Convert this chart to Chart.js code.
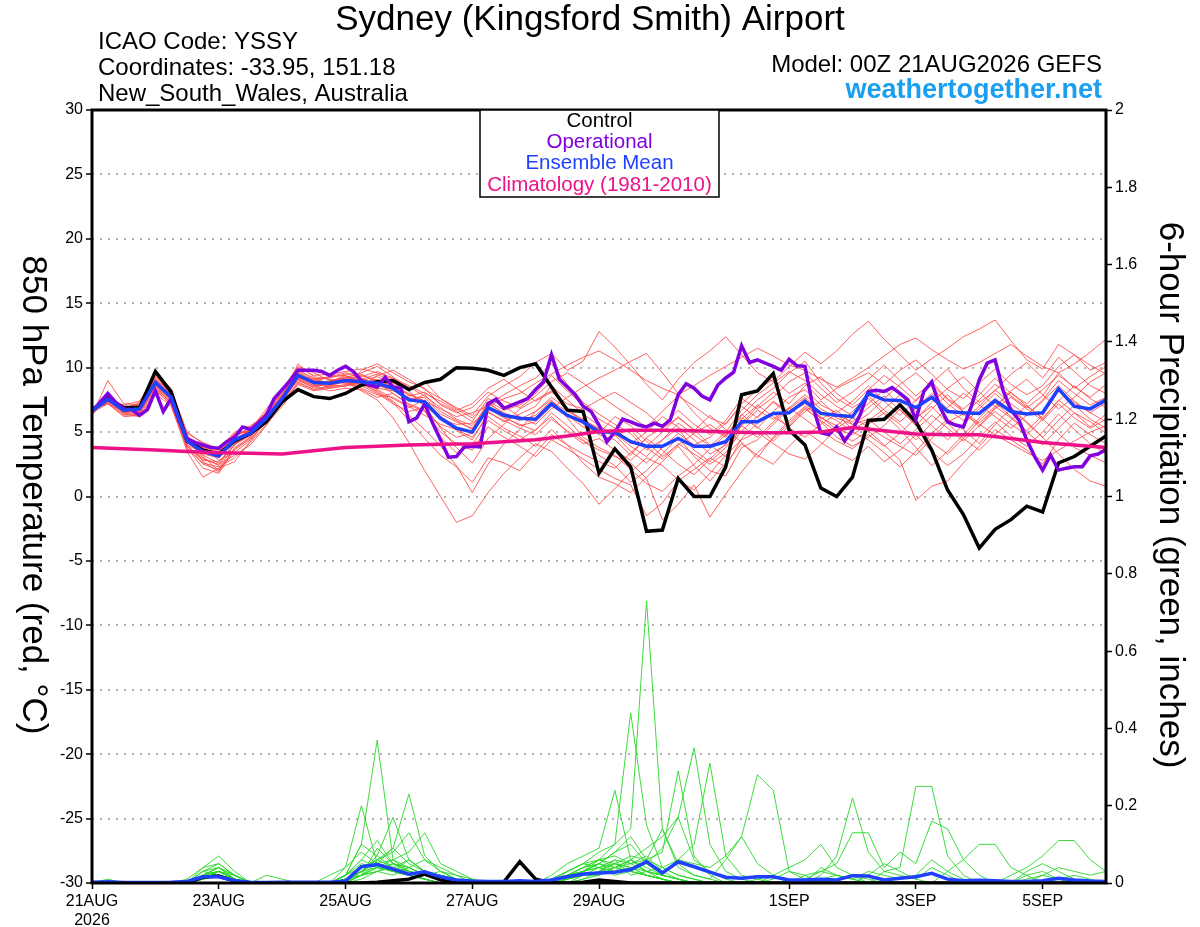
<!DOCTYPE html>
<html>
<head>
<meta charset="utf-8">
<script src="https://cdn.jsdelivr.net/npm/chart.js@4.4.1/dist/chart.umd.min.js"></script>
<style>
  html, body { margin: 0; padding: 0; background: #fff; }
  canvas { display: block; }
</style>
</head>
<body>
<canvas id="meteogram" width="1200" height="927"></canvas>
<script>
// x axis: forecast hours from 00Z 21AUG2026
const xTickHours = [0, 48, 96, 144, 192, 264, 312, 360];
const xTickLabels = ['21AUG', '23AUG', '25AUG', '27AUG', '29AUG', '1SEP', '3SEP', '5SEP'];

// 850 hPa temperature, 6-hourly (65 values, 0..384h)
const controlTemp = [6.7,7.6,6.9,6.9,9.7,8.1,4.3,3.6,3.3,4.3,4.9,5.8,7.35,8.3,7.75,7.6,8.0,
  8.65,8.9,9.0,8.3,8.85,9.1,10.0,9.95,9.8,9.4,10.0,10.3,8.5,6.7,6.6,1.8,
  3.7,2.3,-2.7,-2.6,1.4,0.0,0.0,2.3,7.9,8.2,9.55,5.15,4.0,0.65,0.0,1.5,
  5.9,6.0,7.1,5.8,3.6,0.5,-1.4,-4.0,-2.55,-1.8,-0.75,-1.2,2.6,3.1,3.9,4.7];

const meanTemp = [6.65,7.55,6.7,6.8,8.85,7.7,4.3,3.5,3.15,4.4,4.9,6.07,7.6,9.4,8.85,8.8,9.0,
  8.9,8.8,8.4,7.5,7.35,6.07,5.3,5.0,6.9,6.3,6.07,6.0,7.2,6.3,5.8,5.0,
  5.0,4.25,3.9,3.9,4.5,3.9,3.9,4.25,5.8,5.8,6.45,6.5,7.4,6.45,6.3,6.2,
  8.0,7.5,7.45,6.9,7.7,6.6,6.5,6.45,7.45,6.6,6.4,6.5,8.35,7.0,6.8,7.5];

// operational run, 3-hourly (129 values)
const operTemp = [6.6,7.3,8.0,7.3,6.8,6.75,6.3,6.75,8.2,6.6,7.6,5.9,4.5,4.2,4.0,3.8,3.75,4.25,4.6,5.4,5.2,5.7,6.3,7.6,8.3,9.0,9.8,9.8,9.8,9.7,9.4,9.8,10.1,
  9.7,9.0,8.65,8.5,9.25,8.5,8.4,5.8,6.1,7.2,5.7,4.4,3.05,3.1,3.85,3.9,3.85,7.2,7.55,6.85,7.1,7.35,7.6,8.3,8.9,11.0,9.1,8.5,7.9,7.0,6.6,
  5.55,4.25,5.0,6.0,5.8,5.55,5.4,5.7,5.45,5.95,7.9,8.75,8.4,7.8,7.5,8.65,9.2,9.65,11.7,10.4,10.6,10.35,10.1,9.8,10.65,10.15,10.1,7.0,4.95,4.8,5.4,4.3,
  5.15,6.4,8.15,8.25,8.15,8.45,8.0,7.5,5.95,8.15,8.9,7.0,5.8,5.55,5.4,7.0,9.05,10.35,10.6,8.25,6.7,5.95,4.4,3.1,2.05,3.2,2.05,2.2,2.3,2.3,3.15,3.3,3.65];

// climatology 1981-2010, 12-hourly (33 values)
const climTemp = [3.8,3.7,3.6,3.5,3.4,3.35,3.3,3.55,3.8,3.9,4.0,4.05,4.1,4.25,4.4,4.7,5.05,
  5.15,5.15,5.1,5.0,4.95,4.95,5.0,5.35,5.1,4.85,4.8,4.8,4.5,4.2,4.0,3.8];

// ensemble members, 6-hourly
const memberTemps = [
  [6.5,7.8,6.9,7.0,9.2,8.0,4.6,3.2,2.6,4.0,4.8,6.2,7.9,9.7,9.1,9.3,9.6, 9.4,9.0,8.6,8.0,7.4,6.8,6.2,6.5,7.0,7.6,8.0,8.8,9.5,10.2,10.8,11.3, 10.6,9.8,9.0,8.4,7.9,8.6,9.4,10.1,10.8,11.5,10.9,10.2,9.8,9.1,8.5,9.2, 10.0,10.9,11.8,12.3,11.4,10.6,9.9,10.4,11.1,11.8,10.9,10.1,9.6,10.3,11.2,12.2],
  [6.8,7.4,6.5,6.6,8.4,7.3,3.8,2.2,1.8,3.6,4.5,5.8,7.4,9.1,8.6,8.7,8.9, 8.2,7.5,6.1,4.2,2.0,0.0,-2.0,-1.5,0.3,1.8,3.0,4.1,3.5,2.2,1.0,-0.6, 0.6,1.9,3.0,2.4,1.3,0.5,1.8,3.2,4.4,5.0,4.1,3.3,2.9,4.0,5.3,6.1, 5.4,4.6,3.9,3.2,4.5,5.8,6.4,5.6,4.8,4.1,3.4,2.8,3.6,4.3,5.0,5.5],
  [6.3,9.0,7.2,7.1,9.0,8.3,5.0,4.1,3.6,4.8,5.3,6.3,7.2,8.9,8.3,8.5,8.7, 8.5,9.4,9.8,9.1,8.3,7.6,6.9,6.3,7.8,8.6,9.3,10.4,11.1,9.8,10.5,12.8, 11.6,10.2,8.7,7.5,9.1,10.4,11.3,12.4,11.0,9.6,8.9,10.1,11.2,10.3,11.3,12.6, 13.6,12.2,11.0,9.8,10.7,11.5,12.4,13.0,13.7,12.1,10.6,9.9,11.8,11.0,10.2,9.5],
  [6.9,7.2,6.3,6.4,8.6,7.5,3.9,2.9,2.5,3.2,4.0,5.5,7.3,9.2,8.9,8.4,8.6, 8.9,8.3,7.6,6.9,7.5,6.2,5.1,4.4,6.5,5.9,5.3,4.8,6.0,5.1,4.3,3.6, 3.1,2.6,1.4,-1.8,-0.6,0.9,-1.6,0.2,1.9,3.4,4.5,5.7,6.9,5.8,4.6,3.9, 4.6,5.5,6.8,5.6,4.2,3.3,4.5,5.9,7.0,6.1,5.0,4.0,5.3,6.5,5.8,4.9],
  [6.6,7.6,6.8,7.3,9.1,7.9,4.4,3.7,3.4,4.7,5.2,6.4,7.8,9.6,8.7,9.0,9.2, 9.6,10.1,9.3,8.2,7.0,5.3,3.8,2.6,4.5,5.6,6.8,7.5,8.2,6.9,5.6,4.8, 4.4,3.2,4.6,5.3,6.1,5.2,4.0,3.1,5.6,7.0,8.1,7.2,8.6,9.3,8.0,7.1, 8.3,9.4,8.5,7.4,8.8,9.9,8.4,7.3,8.2,9.5,10.4,9.2,10.8,9.7,8.6,8.0],
  [6.7,7.3,6.4,6.5,8.3,7.1,3.5,1.5,2.2,2.7,4.3,5.9,7.6,9.0,8.5,8.9,9.3, 9.2,8.6,8.9,7.8,8.1,7.2,6.6,5.8,7.6,7.0,6.2,5.6,6.8,7.7,8.5,9.2, 9.8,10.5,11.1,9.6,8.0,6.5,5.3,4.6,6.3,7.5,8.4,9.6,10.5,8.8,7.6,6.9, 7.6,6.4,5.2,3.8,2.4,3.5,4.8,6.1,7.3,6.2,5.1,6.3,8.2,7.3,6.5,5.8],
  [6.4,7.7,7.0,6.9,8.9,7.8,4.2,3.3,3.0,4.5,5.1,6.1,7.7,10.3,9.3,9.1,8.8, 8.7,8.2,7.4,6.3,5.2,3.9,2.4,0.3,2.5,4.1,5.2,6.6,7.5,6.1,4.6,3.8, 3.2,2.1,1.0,0.4,1.6,2.5,3.7,4.8,6.1,5.4,4.3,5.5,6.8,5.9,5.0,4.3, 5.1,4.0,2.8,-0.3,0.8,1.2,2.6,3.9,5.2,4.4,3.6,2.5,4.4,5.7,4.8,4.1],
  [6.8,7.5,6.6,6.7,8.7,7.6,4.5,3.8,3.5,4.9,5.0,6.0,7.5,9.3,8.8,8.6,9.1, 9.1,9.5,8.8,8.3,8.9,7.6,6.8,6.1,7.3,6.4,5.9,6.3,7.4,6.6,6.0,5.2, 4.7,5.2,3.8,2.9,4.1,3.3,2.5,3.4,5.1,6.2,7.3,6.4,7.6,6.0,6.7,5.6, 6.4,7.6,8.7,9.6,8.5,7.2,6.3,7.5,8.7,7.8,6.9,7.8,9.6,8.4,9.3,10.1],
  [6.6,7.9,6.8,7.2,9.3,8.2,4.8,2.7,1.9,3.8,4.6,6.4,7.7,9.5,9.0,8.9,9.4, 8.6,8.0,7.2,6.6,6.9,5.4,4.6,4.9,6.8,6.1,5.6,5.1,6.5,5.5,4.4,3.2, 2.4,1.1,2.0,3.3,4.6,3.1,2.0,1.6,3.8,4.4,5.6,6.8,7.7,6.5,5.9,5.0, 4.4,3.4,2.3,3.5,4.9,6.0,5.2,4.1,5.6,6.8,5.7,4.6,3.3,2.1,1.2,0.8],
  [6.5,7.2,6.2,6.3,8.2,7.2,4.0,3.4,3.1,4.2,5.0,6.6,8.0,9.8,9.2,8.7,8.5, 9.8,10.3,9.6,8.9,8.4,7.1,6.5,6.9,8.1,7.4,6.9,7.8,8.9,9.6,8.8,7.9, 7.0,6.2,5.4,6.6,7.8,7.0,6.1,5.6,7.2,8.3,9.1,8.0,8.8,7.5,8.4,9.0, 9.6,8.7,9.8,10.6,9.5,8.3,7.6,8.8,9.9,8.7,7.9,8.6,10.1,11.0,9.8,10.4],
  [6.9,7.7,6.9,6.6,8.8,7.7,4.1,2.5,2.1,4.1,4.7,5.7,7.2,8.8,8.3,8.6,9.0, 8.4,7.9,7.7,7.0,6.3,5.6,5.2,4.6,6.2,5.3,4.7,3.9,5.2,4.0,2.6,1.5, 1.0,0.3,1.5,2.7,3.9,2.4,1.2,2.6,4.1,3.2,2.5,3.9,5.1,4.2,3.4,2.8, 3.9,2.7,3.6,4.8,3.5,2.4,3.3,4.6,5.8,4.7,3.9,5.0,6.4,5.2,4.1,3.3],
  [6.7,7.4,6.7,7.0,9.5,8.4,4.7,3.6,3.3,4.6,5.4,6.5,8.1,10.0,9.4,9.5,9.7, 9.9,9.6,9.1,8.5,7.8,6.9,6.0,5.5,7.1,7.9,8.6,9.2,10.3,8.7,7.3,6.4, 5.6,4.9,3.6,4.4,5.7,4.8,3.9,5.0,6.7,7.9,8.8,9.7,9.0,7.9,7.0,6.3, 7.2,8.3,7.1,6.0,7.3,8.4,9.3,8.1,7.0,8.2,9.1,7.9,6.8,7.7,8.9,9.6],
  [6.4,7.6,6.5,6.8,8.5,7.4,4.3,3.9,2.8,3.4,4.4,5.9,7.4,9.2,8.6,8.2,8.4, 8.3,7.7,8.0,7.1,6.6,5.0,4.1,3.6,5.4,4.6,3.9,3.1,4.4,3.7,2.9,2.1, 1.4,0.9,-1.5,-0.5,1.2,2.1,3.0,2.3,4.5,5.7,6.5,5.3,4.6,5.6,6.4,5.2, 5.9,6.8,7.9,6.6,5.5,4.4,5.6,6.8,8.0,6.9,5.8,4.6,5.9,7.1,6.0,5.3],
  [6.6,7.3,6.9,7.1,9.0,7.6,4.9,4.2,3.7,5.0,5.5,6.3,7.6,9.4,9.1,9.2,9.5, 9.3,9.7,9.2,8.6,8.0,7.4,6.7,7.2,8.4,9.1,8.2,7.4,8.1,7.2,6.8,7.5, 8.1,7.3,6.5,5.4,6.7,5.6,4.8,5.9,7.6,6.8,7.7,8.9,9.6,8.4,7.3,8.1, 9.1,10.2,9.0,7.8,8.9,7.6,6.8,7.9,9.2,8.0,7.2,8.3,9.4,8.5,7.7,8.7],
  [6.8,7.8,6.4,6.2,8.0,7.0,3.7,2.6,2.3,3.0,4.2,5.6,7.0,8.7,8.2,8.4,8.6, 8.8,8.1,7.3,5.9,4.5,3.2,2.3,1.1,3.0,2.6,2.0,3.4,4.8,4.0,3.3,2.7, 2.2,3.4,4.5,3.6,2.5,1.7,2.9,4.1,5.5,4.6,5.8,6.9,6.0,5.1,4.3,3.7, 4.8,3.9,4.9,6.1,7.0,5.7,4.5,3.6,4.8,5.9,7.1,6.0,4.9,3.8,3.2,2.6],
  [6.5,7.5,7.1,7.4,9.4,8.1,4.4,3.0,2.4,4.3,5.2,6.8,8.3,10.1,9.6,9.0,9.1, 9.0,9.3,8.7,7.4,7.9,6.6,5.9,5.2,7.4,6.7,7.1,8.0,9.4,8.2,7.1,6.0, 5.3,4.1,5.0,6.2,5.4,4.4,3.3,4.0,6.0,7.1,6.2,5.4,6.6,7.4,6.3,5.8, 6.9,7.8,6.7,5.5,6.8,7.9,6.6,5.4,6.9,8.1,7.0,6.1,7.4,8.6,7.6,6.9],
  [6.7,7.2,6.6,6.9,8.6,7.5,4.2,3.5,3.3,4.4,4.9,6.1,7.5,9.3,8.7,8.8,8.8, 8.9,8.4,8.2,7.7,7.1,6.0,5.6,5.7,6.6,5.8,6.4,7.0,8.6,7.5,6.4,5.5, 4.8,3.5,2.6,3.8,4.9,4.0,4.6,5.7,7.0,6.1,7.4,6.5,7.2,6.1,5.5,6.6, 7.8,6.7,5.8,6.9,8.0,6.8,5.9,7.0,8.3,7.2,6.3,7.5,9.0,8.0,7.1,7.7],
  [6.3,7.9,6.7,6.5,8.9,7.9,4.6,3.1,2.0,3.7,4.6,6.0,7.8,9.6,9.0,8.5,9.0, 9.5,8.8,8.0,7.2,6.7,4.6,3.4,4.0,5.9,5.1,4.4,5.2,6.2,5.0,4.1,4.5, 3.6,2.8,3.9,5.0,6.2,5.1,6.3,5.2,4.2,3.0,4.6,5.9,7.0,6.2,5.2,4.8, 5.6,6.5,5.6,4.4,5.7,6.9,8.0,7.1,6.2,5.3,6.3,7.4,8.6,7.4,6.5,7.3],
  [6.9,7.4,6.8,7.0,8.4,7.3,3.9,2.8,2.7,4.0,5.3,6.5,7.9,9.1,8.4,8.9,9.2, 9.1,8.6,8.3,7.6,7.7,6.4,5.8,5.3,6.9,6.2,5.5,5.8,7.0,6.3,5.4,4.9, 6.2,5.5,4.3,3.1,4.0,4.9,5.6,4.7,6.4,5.3,6.6,7.7,8.3,7.1,6.5,7.4, 8.6,7.4,6.3,7.5,8.7,7.5,6.6,5.7,6.8,7.7,6.8,5.9,7.2,6.1,5.3,6.0],
  [6.6,7.6,6.5,6.7,9.1,8.0,4.5,3.7,3.4,4.8,5.1,6.2,7.3,9.5,8.9,9.3,9.4, 8.8,9.1,8.5,7.9,7.4,6.2,5.4,5.0,7.2,6.5,6.0,6.6,7.7,6.8,5.9,5.3, 4.9,3.9,3.1,4.4,5.3,3.6,2.7,3.8,5.5,6.7,6.0,6.9,7.9,6.8,6.1,5.6, 6.0,5.0,4.1,5.2,6.3,5.3,4.3,5.5,6.6,5.6,4.8,6.0,7.5,6.5,5.4,6.4]
];

// 6-hour precipitation (inches), 6-hourly
const controlPrecip = [0,0,0,0,0,0,0,0.015,0.018,0.005,0,0,0, 0,0,0,0,0,0.002,0.006,0.01,0.023,0.008,0,0,0,
  0.003,0.055,0.01,0.001,0,0.002,0.008,0.004,0,0,0,0,0, 0,0,0,0,0,0,0,0,0,0,0,0,0, 0,0,0,0,0,0,0,0,0,0,0,0,0];

const meanPrecip = [0.002,0.003,0.001,0.001,0.001,0.002,0.004,0.016,0.016,0.006,0.002,0.001,0.002,
  0.002,0.002,0.002,0.005,0.042,0.048,0.036,0.023,0.029,0.016,0.008,0.005,0.004,
  0.004,0.006,0.004,0.008,0.016,0.023,0.026,0.028,0.035,0.055,0.026,0.055,0.042,
  0.028,0.015,0.012,0.016,0.016,0.008,0.008,0.01,0.008,0.019,0.018,0.008,0.012,
  0.016,0.025,0.01,0.006,0.007,0.006,0.004,0.004,0.006,0.012,0.008,0.005,0.004];

const memberPrecip = [
  [0,0,0,0,0,0,0,0.02,0.04,0.01,0,0,0, 0,0,0,0.02,0.1,0.37,0.06,0.03,0.01,0,0,0,0, 0,0,0,0.01,0.03,0.05,0.08,0.1,0.14,0.73,0.14,0.05,0.02, 0.01,0,0,0,0,0,0,0,0.01,0.02,0.01,0,0, 0,0,0,0,0,0,0,0,0,0.01,0.02,0.01,0],
  [0,0,0,0,0,0,0,0.03,0.05,0.02,0,0,0, 0,0,0,0.04,0.2,0.05,0.03,0.02,0.01,0,0,0,0, 0,0,0,0,0.02,0.04,0.06,0.1,0.44,0.15,0.04,0.02,0.01, 0,0,0,0,0.01,0.03,0.02,0,0,0,0,0,0, 0,0,0,0,0,0,0,0.02,0.03,0.01,0,0,0],
  [0,0.01,0,0,0,0,0.01,0.04,0.07,0.03,0,0,0, 0,0,0,0,0.02,0.05,0.09,0.23,0.07,0.03,0.01,0,0, 0,0,0,0.02,0.05,0.07,0.09,0.24,0.06,0.03,0.01,0,0, 0,0,0,0.01,0.02,0,0,0,0,0,0,0,0, 0,0,0,0,0,0,0,0,0,0,0,0,0],
  [0,0,0,0,0,0,0,0.02,0.03,0.01,0,0,0, 0,0,0,0,0.03,0.07,0.17,0.06,0.03,0.02,0.01,0,0, 0,0,0,0,0.03,0.05,0.06,0.04,0.05,0.06,0.08,0.29,0.07, 0.02,0,0,0,0,0,0,0,0,0,0,0,0, 0,0,0,0,0,0,0,0,0,0,0,0,0],
  [0,0,0,0,0,0,0,0.01,0.02,0.01,0,0,0, 0,0,0,0.01,0.03,0.05,0.06,0.08,0.13,0.05,0.03,0.01,0, 0,0,0,0.01,0.02,0.04,0.05,0.03,0.06,0.09,0.12,0.17,0.35, 0.1,0.03,0.01,0,0,0,0,0,0,0,0,0,0, 0,0,0,0,0,0,0,0,0,0,0,0,0],
  [0,0,0,0,0,0,0,0.04,0.05,0.02,0,0,0, 0,0,0,0.02,0.06,0.11,0.05,0.04,0.02,0.01,0,0,0, 0,0,0,0,0.01,0.03,0.04,0.02,0.03,0.05,0.02,0.06,0.1, 0.31,0.07,0.02,0.01,0,0,0,0,0,0,0,0,0, 0,0,0,0,0,0,0,0,0,0,0,0,0],
  [0,0,0,0,0,0,0,0.02,0.04,0.02,0,0,0, 0,0,0,0.02,0.1,0.07,0.04,0.03,0.02,0.01,0,0,0, 0,0,0,0.01,0.02,0.03,0.05,0.08,0.1,0.05,0.09,0.17,0.06, 0.03,0.01,0,0,0,0,0.01,0.03,0.02,0.01,0,0,0, 0,0,0,0,0,0,0,0,0,0,0,0,0],
  [0,0,0,0,0,0,0,0.01,0.03,0.01,0,0,0, 0,0,0,0.01,0.03,0.06,0.08,0.13,0.06,0.04,0.02,0.01,0, 0,0,0,0,0.01,0.02,0.03,0.05,0.07,0.06,0.14,0.04,0.02, 0.01,0.06,0.12,0.28,0.24,0.03,0.01,0,0,0,0,0,0, 0,0,0,0,0,0,0,0,0,0,0,0,0],
  [0,0,0,0,0,0,0,0.02,0.03,0.01,0,0,0, 0,0,0,0.02,0.04,0.06,0.09,0.05,0.03,0.02,0.01,0,0, 0,0,0,0,0.01,0.03,0.05,0.08,0.12,0.06,0.04,0.02,0.01, 0,0,0,0,0.02,0.04,0.06,0.1,0.04,0.02,0,0,0, 0,0,0,0,0,0,0,0,0,0,0,0,0],
  [0,0,0,0,0,0,0,0.01,0.02,0,0,0,0, 0,0,0,0.01,0.02,0.04,0.03,0.02,0.01,0,0,0,0, 0,0,0,0,0.01,0.02,0.03,0.04,0.06,0.03,0.02,0.01,0, 0,0,0,0,0,0,0,0.02,0.07,0.22,0.08,0.03,0.04, 0.25,0.25,0.07,0.02,0,0,0,0,0,0,0,0,0],
  [0,0,0,0,0,0,0,0.02,0.03,0.01,0,0,0, 0,0,0,0,0.02,0.03,0.04,0.03,0.02,0.01,0,0,0, 0,0,0,0,0,0.01,0.02,0.04,0.03,0.02,0.01,0,0, 0,0,0,0,0,0,0.02,0.03,0.05,0.13,0.13,0.04,0.08, 0.05,0.16,0.14,0.06,0.02,0,0,0,0,0,0,0,0],
  [0,0,0,0,0,0,0,0.02,0.02,0.01,0,0,0, 0,0,0,0,0.01,0.03,0.05,0.04,0.02,0.01,0,0,0, 0,0,0,0,0.01,0.03,0.06,0.07,0.05,0.03,0.02,0.01,0, 0,0,0,0,0,0,0,0,0,0,0,0,0, 0,0,0.03,0.06,0.1,0.1,0.04,0.02,0,0,0,0,0],
  [0,0,0,0,0,0,0,0.01,0.02,0.01,0,0,0, 0,0,0,0.01,0.03,0.04,0.03,0.06,0.03,0.01,0,0,0, 0,0,0,0,0,0.02,0.04,0.03,0.04,0.02,0.01,0,0, 0,0,0,0,0,0,0,0,0,0,0,0,0, 0,0,0,0,0,0,0.02,0.04,0.07,0.11,0.11,0.06,0.03],
  [0,0,0,0,0,0,0,0.03,0.04,0.01,0,0,0, 0,0,0,0.02,0.05,0.04,0.03,0.02,0.01,0,0,0,0, 0,0,0,0.01,0.02,0.03,0.05,0.04,0.03,0.02,0.01,0,0, 0,0,0,0,0,0,0,0.04,0.02,0.01,0.03,0.02,0.01, 0.02,0.06,0.03,0.01,0,0,0,0.03,0.05,0.03,0.01,0,0],
  [0,0,0,0,0,0,0,0.01,0.03,0.02,0,0,0, 0,0,0,0,0.02,0.04,0.06,0.04,0.02,0.03,0.02,0,0, 0,0,0,0,0.02,0.03,0.04,0.05,0.04,0.03,0.04,0.06,0.05, 0.04,0.07,0.12,0.05,0.02,0,0,0,0,0,0,0,0, 0,0,0,0,0,0,0,0,0,0,0,0,0],
  [0,0,0,0,0,0,0,0.02,0.04,0.02,0,0,0, 0,0,0,0.01,0.02,0.03,0.02,0.04,0.06,0.03,0.01,0,0, 0,0,0,0,0.01,0.02,0.02,0.04,0.06,0.04,0.02,0.01,0, 0,0,0,0,0,0,0,0,0,0,0.02,0.05,0.03, 0.01,0.04,0.02,0,0,0,0,0,0,0,0,0,0],
  [0,0,0,0,0,0,0,0.02,0.03,0.01,0,0.02,0.01, 0,0,0.02,0.04,0.08,0.05,0.03,0.02,0.01,0,0,0,0, 0,0,0,0,0,0.01,0.03,0.05,0.04,0.02,0.01,0,0, 0,0,0,0,0,0,0,0,0,0,0,0,0, 0,0,0,0,0,0,0,0.01,0.02,0.01,0,0,0],
  [0,0,0,0,0,0,0,0.03,0.02,0,0,0,0, 0,0,0,0.02,0.06,0.04,0.05,0.03,0.02,0.01,0,0,0, 0,0,0,0,0.02,0.04,0.06,0.05,0.03,0.02,0.01,0,0, 0,0,0,0,0,0,0,0.01,0.02,0.01,0,0.03,0.02, 0.01,0,0,0,0,0,0,0,0.02,0.04,0.03,0.02,0.03],
  [0,0,0,0,0,0,0,0.01,0.03,0.01,0,0,0, 0,0,0,0,0.03,0.06,0.04,0.06,0.03,0.02,0.01,0,0, 0,0,0,0.01,0.03,0.05,0.04,0.06,0.02,0.03,0.02,0.01,0, 0,0,0,0,0,0,0,0,0,0,0,0,0, 0,0,0,0,0,0,0,0,0,0,0,0,0],
  [0,0,0,0,0,0,0,0.02,0.03,0.01,0,0,0, 0,0,0,0.01,0.02,0.09,0.05,0.03,0.02,0.01,0,0,0, 0,0,0,0,0.01,0.02,0.03,0.06,0.05,0.07,0.03,0.01,0, 0,0,0,0,0,0,0,0,0,0,0,0,0, 0,0,0,0,0,0,0,0,0,0,0,0,0]
];

const FONT = '"Liberation Sans", Arial, Helvetica, sans-serif';
Chart.defaults.font.family = FONT;
Chart.defaults.color = '#000';

const RED = 'rgba(255,70,70,0.85)';
const GREEN = 'rgba(40,215,40,0.9)';
const PURPLE = '#8000e0';
const BLUE = '#2040ff';
const PINK = '#ee1289';

function pts(arr, step) {
  return arr.map((v, i) => ({ x: i * step, y: v }));
}

function line(data, color, width, axis) {
  return { data: data, borderColor: color, borderWidth: width, yAxisID: axis,
           pointRadius: 0, tension: 0, fill: false };
}

// bottom layer first, reversed later (Chart.js draws dataset 0 on top)
const layers = [];
memberTemps.forEach(m => layers.push(line(pts(m, 6), RED, 1, 'y')));
memberPrecip.forEach(m => layers.push(line(pts(m, 6), GREEN, 1, 'y1')));
layers.push(line(pts(controlPrecip, 6), '#000', 3.5, 'y1'));
layers.push(line(pts(meanPrecip, 6), BLUE, 3.5, 'y1'));
layers.push(line(pts(controlTemp, 6), '#000', 3.5, 'y'));
layers.push(line(pts(operTemp, 3), PURPLE, 3.5, 'y'));
layers.push(line(pts(meanTemp, 6), BLUE, 3.5, 'y'));
layers.push(line(pts(climTemp, 12), PINK, 3.5, 'y'));

const decorations = {
  id: 'decorations',
  afterDraw(chart) {
    const ctx = chart.ctx;
    const a = chart.chartArea;
    ctx.save();

    // plot frame
    ctx.lineWidth = 3;
    ctx.strokeStyle = '#000';
    ctx.strokeRect(a.left, a.top, a.right - a.left, a.bottom - a.top);

    // header
    ctx.fillStyle = '#000';
    ctx.textBaseline = 'alphabetic';
    ctx.textAlign = 'center';
    ctx.font = '35px ' + FONT;
    ctx.fillText('Sydney (Kingsford Smith) Airport', 590, 30);

    ctx.textAlign = 'left';
    ctx.font = '24px ' + FONT;
    ctx.fillText('ICAO Code: YSSY', 98, 49);
    ctx.fillText('Coordinates: -33.95, 151.18', 98, 75);
    ctx.fillText('New_South_Wales, Australia', 98, 101);

    ctx.textAlign = 'right';
    ctx.fillText('Model: 00Z 21AUG2026 GEFS', 1102, 72);
    ctx.fillStyle = '#1a9ff0';
    ctx.font = 'bold 27px ' + FONT;
    ctx.fillText('weathertogether.net', 1102, 98);

    // legend box
    ctx.fillStyle = '#fff';
    ctx.fillRect(480, 110, 239, 87);
    ctx.lineWidth = 1.5;
    ctx.strokeStyle = '#000';
    ctx.strokeRect(480, 110, 239, 87);
    ctx.textAlign = 'center';
    ctx.textBaseline = 'middle';
    ctx.font = '20.5px ' + FONT;
    const legend = [['Control', '#000'], ['Operational', PURPLE],
                    ['Ensemble Mean', BLUE], ['Climatology (1981-2010)', PINK]];
    legend.forEach((l, i) => {
      ctx.fillStyle = l[1];
      ctx.fillText(l[0], 599.5, 121 + i * 21.3);
    });

    // axis titles, both reading top to bottom
    ctx.fillStyle = '#000';
    ctx.font = '35px ' + FONT;
    ctx.save();
    ctx.translate(33, 495);
    ctx.rotate(Math.PI / 2);
    ctx.fillText('850 hPa Temperature (red, \u00B0C)', 0, 0);
    ctx.restore();
    ctx.save();
    ctx.translate(1170, 495);
    ctx.rotate(Math.PI / 2);
    ctx.fillText('6-hour Precipitation (green, inches)', 0, 0);
    ctx.restore();

    ctx.restore();
  }
};

new Chart(document.getElementById('meteogram'), {
  type: 'line',
  data: { datasets: layers.reverse() },
  options: {
    responsive: false,
    animation: false,
    events: [],
    layout: { padding: { top: 110, left: 0, right: 0, bottom: 0 } },
    plugins: { legend: { display: false }, tooltip: { enabled: false } },
    scales: {
      x: {
        type: 'linear', min: 0, max: 384,
        afterBuildTicks: s => { s.ticks = xTickHours.map(v => ({ value: v })); },
        afterFit: s => { s.height = 44; },
        grid: { drawOnChartArea: false, tickLength: 6, tickColor: '#000', tickWidth: 1.5 },
        border: { display: false },
        ticks: {
          autoSkip: false, maxRotation: 0, padding: 3,
          font: { size: 16 },
          callback: v => {
            const lab = xTickLabels[xTickHours.indexOf(v)];
            return v === 0 ? [lab, '2026'] : lab;
          }
        }
      },
      y: {
        position: 'left', min: -30, max: 30,
        afterFit: s => { s.width = 92; },
        ticks: { stepSize: 5, padding: 3, font: { size: 16 } },
        grid: { color: '#b0b0b0', lineWidth: 2, tickLength: 6, tickColor: '#000',
                tickWidth: 1.5, tickBorderDash: [] },
        border: { display: false, dash: [2, 6] }
      },
      y1: {
        position: 'right', min: 0, max: 2,
        afterFit: s => { s.width = 94; },
        ticks: { stepSize: 0.2, padding: 3, font: { size: 16 },
                 callback: v => String(Math.round(v * 10) / 10) },
        grid: { drawOnChartArea: false, tickLength: 6, tickColor: '#000', tickWidth: 1.5 },
        border: { display: false }
      }
    }
  },
  plugins: [decorations]
});
</script>
</body>
</html>
